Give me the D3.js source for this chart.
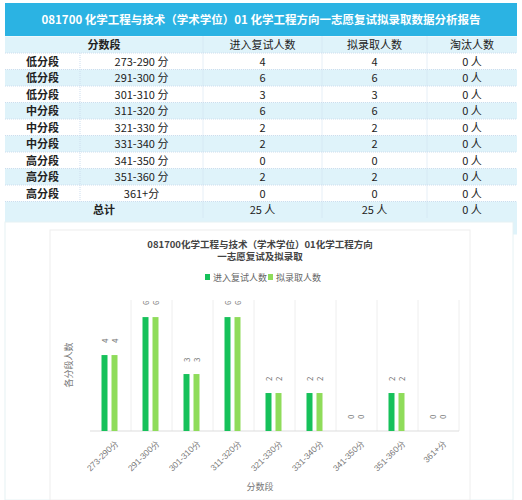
<!DOCTYPE html><html><head><meta charset="utf-8"><script src="https://cdn.jsdelivr.net/npm/d3@7"></script>
<style>body{margin:0;background:#fff;font-family:"Noto Sans CJK SC","Noto Sans",sans-serif}</style></head><body><svg id="s" width="522" height="500"></svg><script>
const groups=["低分段","低分段","低分段","中分段","中分段","中分段","高分段","高分段","高分段"];
const ranges=["273-290 分","291-300 分","301-310 分","311-320 分","321-330 分","331-340 分","341-350 分","351-360 分","361+分"];
const axisLabels=["273-290分","291-300分","301-310分","311-320分","321-330分","331-340分","341-350分","351-360分","361+分"];
const retest=[4,6,3,6,2,2,0,2,0];
const admit=[4,6,3,6,2,2,0,2,0];
const eliminated=[0,0,0,0,0,0,0,0,0];
const headers=["分数段","进入复试人数","拟录取人数","淘汰人数"];
const seriesNames=["进入复试人数","拟录取人数"];
const colors=["#16c15a","#8fdc5a"];
const svg=d3.select("#s");
const L=5,R=517;
svg.append("rect").attr("x",L).attr("y",3).attr("width",R-L).attr("height",33).attr("fill","#2bb3e3");
svg.append("text").attr("x",(L+R)/2).attr("y",24).attr("text-anchor","middle").attr("fill","#fff").attr("font-size",11.5).attr("font-weight","bold").text("081700 化学工程与技术（学术学位）01 化学工程方向一志愿复试拟录取数据分析报告");
const cx=[5,80,203,322,427,517];
const rowH=16.5,y0=36.5;
const rows=d3.range(11);
const ry=i=>y0+i*rowH;
rows.forEach(i=>{svg.append("rect").attr("x",L).attr("y",ry(i)).attr("width",R-L).attr("height",rowH).attr("fill",(i%2==0)?"#dff3fa":"#ffffff");});
svg.append("rect").attr("x",L).attr("y",ry(11)).attr("width",R-L).attr("height",rowH).attr("fill","#dff3fa");
const t=(x,y,s,o={})=>svg.append("text").attr("x",x).attr("y",y).attr("text-anchor","middle").attr("font-size",o.fs||11).attr("font-weight",o.b?"bold":"normal").attr("fill","#222").text(s);
const mid=(a,b)=>(cx[a]+cx[b])/2;
t(mid(0,2),ry(0)+12.5,headers[0],{b:1});
t(mid(2,3),ry(0)+12.5,headers[1]);t(mid(3,4),ry(0)+12.5,headers[2]);t(mid(4,5),ry(0)+12.5,headers[3]);
groups.forEach((g,i)=>{const y=ry(i+1)+12.5;t(mid(0,1),y,g,{b:1});t(mid(1,2),y,ranges[i]);t(mid(2,3),y,retest[i]);t(mid(3,4),y,admit[i]);t(mid(4,5),y,eliminated[i]+" 人");});
t(mid(0,2),ry(10)+12.5,"总计",{b:1});
t(mid(2,3),ry(10)+12.5,d3.sum(retest)+" 人");t(mid(3,4),ry(10)+12.5,d3.sum(admit)+" 人");t(mid(4,5),ry(10)+12.5,d3.sum(eliminated)+" 人");
[80,203,322,427].forEach((x,k)=>svg.append("line").attr("x1",x).attr("x2",x).attr("y1",k==0?ry(1):ry(0)).attr("y2",k==0?ry(10):ry(11)).attr("stroke","#cde").attr("stroke-dasharray","1,1"));
rows.slice(1).forEach(i=>svg.append("line").attr("x1",L).attr("x2",R).attr("y1",ry(i)).attr("y2",ry(i)).attr("stroke","#cde").attr("stroke-dasharray","1,1"));
svg.append("rect").attr("x",5).attr("y",222).attr("width",508).attr("height",278).attr("fill","#fff").attr("stroke","#e6f2f4");
svg.append("rect").attr("x",50).attr("y",230).attr("width",420).attr("height",270).attr("fill","#fff").attr("stroke","#eee");
svg.append("text").attr("x",260).attr("y",248).attr("text-anchor","middle").attr("font-size",9.5).attr("font-weight","bold").attr("fill","#444").text("081700化学工程与技术（学术学位）01化学工程方向");
svg.append("text").attr("x",260).attr("y",260).attr("text-anchor","middle").attr("font-size",9.5).attr("font-weight","bold").attr("fill","#444").text("一志愿复试及拟录取");
seriesNames.forEach((n,i)=>{const x=i==0?205:268;svg.append("rect").attr("x",x).attr("y",274).attr("width",5).attr("height",6).attr("fill",colors[i]);svg.append("text").attr("x",x+8).attr("y",281).attr("font-size",9).attr("fill","#666").text(n);});
const x=d3.scaleBand().domain(axisLabels).range([90,459]);
const y=d3.scaleLinear().domain([0,6.9]).range([431,300]);
const g=svg.append("g");
axisLabels.forEach(c=>g.append("line").attr("x1",x(c)+x.bandwidth()).attr("x2",x(c)+x.bandwidth()).attr("y1",300).attr("y2",431).attr("stroke","#eee"));
g.append("line").attr("x1",90).attr("x2",459).attr("y1",431).attr("y2",431).attr("stroke","#ddd");
[retest,admit].forEach((arr,s)=>{arr.forEach((v,i)=>{const bx=x(axisLabels[i])+x.bandwidth()/2+(s==0?-11:-1)+2;
g.append("rect").attr("x",bx).attr("y",y(v)).attr("width",6).attr("height",431-y(v)).attr("fill",colors[s]);
g.append("text").attr("transform",`translate(${bx+6},${y(v)-12}) rotate(-90)`).attr("font-size",8).attr("fill","#777").text(v);});});
const xa=svg.append("g").attr("transform","translate(0,431)").call(d3.axisBottom(x).tickSize(0));
xa.select(".domain").remove();
xa.selectAll("text").attr("font-size",8.5).attr("fill","#777").attr("text-anchor","end").attr("transform","translate(2,6) rotate(-45)");
svg.append("text").attr("x",260).attr("y",490).attr("text-anchor","middle").attr("font-size",9).attr("fill","#777").text("分数段");
svg.append("text").attr("transform","translate(72,365) rotate(-90)").attr("text-anchor","middle").attr("font-size",9).attr("fill","#777").text("各分段人数");
</script></body></html>
